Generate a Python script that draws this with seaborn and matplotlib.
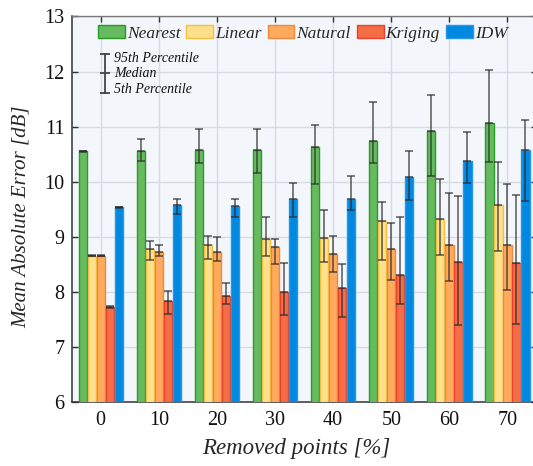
import numpy as np
import pandas as pd
import matplotlib
matplotlib.use("Agg")
import matplotlib.pyplot as plt
from matplotlib.patches import Patch
import seaborn as sns

# ---------------- data ----------------
categories = [0, 10, 20, 30, 40, 50, 60, 70]
methods = ["Nearest", "Linear", "Natural", "Kriging", "IDW"]

nearest_med = [10.55, 10.56, 10.58, 10.58, 10.62, 10.73, 10.92, 11.07]
nearest_p5 = [10.53, 10.38, 10.33, 10.16, 9.96, 10.33, 10.10, 10.35]
nearest_p95 = [10.56, 10.77, 10.95, 10.95, 11.03, 11.45, 11.58, 12.03]

linear_med = [8.65, 8.78, 8.84, 8.95, 8.98, 9.29, 9.32, 9.57]
linear_p5 = [8.64, 8.58, 8.59, 8.64, 8.53, 8.57, 8.67, 8.73]
linear_p95 = [8.66, 8.92, 9.02, 9.36, 9.49, 9.63, 10.05, 10.36]

natural_med = [8.65, 8.72, 8.72, 8.81, 8.69, 8.77, 8.84, 8.84]
natural_p5 = [8.64, 8.65, 8.56, 8.50, 8.36, 8.21, 8.19, 8.03]
natural_p95 = [8.66, 8.85, 9.00, 8.95, 9.02, 9.24, 9.79, 9.96]

kriging_med = [7.72, 7.83, 7.92, 8.00, 8.06, 8.30, 8.53, 8.52]
kriging_p5 = [7.71, 7.59, 7.78, 7.58, 7.53, 7.77, 7.39, 7.42]
kriging_p95 = [7.73, 8.02, 8.16, 8.52, 8.51, 9.36, 9.73, 9.76]

idw_med = [9.53, 9.57, 9.55, 9.68, 9.69, 10.08, 10.38, 10.57]
idw_p5 = [9.52, 9.41, 9.36, 9.36, 9.49, 9.67, 9.97, 9.64]
idw_p95 = [9.54, 9.68, 9.69, 9.98, 10.10, 10.55, 10.90, 11.12]

medians = [nearest_med, linear_med, natural_med, kriging_med, idw_med]
p5s = [nearest_p5, linear_p5, natural_p5, kriging_p5, idw_p5]
p95s = [nearest_p95, linear_p95, natural_p95, kriging_p95, idw_p95]

face_colors = ["#66BB5E", "#FFE08C", "#FFAA5C", "#F46D45", "#0089E0"]
edge_colors = ["#2A9A2A", "#F2C040", "#EE8840", "#E8412F", "#2A95E5"]

rows = []
for m, meds in zip(methods, medians):
    for c, v in zip(categories, meds):
        rows.append({"pct": c, "mae": v, "method": m})
df = pd.DataFrame(rows)

# ---------------- figure ----------------
sns.set_style("ticks")
FONT = "Liberation Serif"
plt.rcParams["font.family"] = "serif"
plt.rcParams["font.serif"] = [FONT, "DejaVu Serif"]

fig = plt.figure(figsize=(5.33, 4.66), dpi=100)
ax = fig.add_axes([0.1345, 0.138, 1.0066 - 0.1345, 0.9646 - 0.138])
ax.set_facecolor("#F3F7FC")

sns.barplot(data=df, x="pct", y="mae", hue="method", order=categories,
            hue_order=methods, palette=face_colors, saturation=1,
            width=0.775, gap=0.08, errorbar=None, legend=False, ax=ax,
            zorder=3)

for cont, ec, meds, lo, hi in zip(ax.containers, edge_colors, medians, p5s, p95s):
    xs = []
    for p in cont.patches:
        p.set_edgecolor(ec)
        p.set_linewidth(1.0)
        xs.append(p.get_x() + p.get_width() / 2)
    xs = np.array(xs)
    meds = np.array(meds); lo = np.array(lo); hi = np.array(hi)
    ax.errorbar(xs, meds, yerr=[meds - lo, hi - meds], fmt="none",
                ecolor="#2b2b2b", elinewidth=1.1, capsize=3.2, capthick=1.1,
                alpha=0.78, zorder=5)
    ax.plot(xs, meds, ls="none", marker="_", ms=6.4, mew=1.1,
            color="#2b2b2b", alpha=0.78, zorder=5)

ax.set_xlim(-0.5, 7.5)
ax.set_ylim(6, 13)
ax.set_yticks(range(6, 14))
ax.set_xticks(range(len(categories)))
ax.set_xticklabels([str(c) for c in categories])

ax.grid(True, color="#D6DBE3", linewidth=1.0, zorder=0)
ax.set_axisbelow(True)

ax.tick_params(axis="both", which="both", direction="in", length=4, width=1,
               top=True, right=True, labelsize=14.5, color="#333333",
               labelcolor="#111111", pad=5)
ax.tick_params(axis="x", pad=7)
for lab in ax.get_xticklabels() + ax.get_yticklabels():
    lab.set_family(FONT)
for side in ["left", "bottom"]:
    ax.spines[side].set_color("#333333")
    ax.spines[side].set_linewidth(1.1)
for side in ["top", "right"]:
    ax.spines[side].set_visible(True)
    ax.spines[side].set_color("#777777")
    ax.spines[side].set_linewidth(1.0)

ax.set_xlabel("Removed points [%]", fontsize=16.5, style="italic", family=FONT)
ax.set_ylabel("Mean Absolute Error [dB]", fontsize=15, style="italic", family=FONT)
ax.xaxis.set_label_coords(0.4837, -0.095)
ax.yaxis.set_label_coords(-0.088, 0.48)

handles = [Patch(facecolor=fc, edgecolor=ec, linewidth=1.0)
           for fc, ec in zip(face_colors, edge_colors)]
leg = ax.legend(handles, methods, loc="center left", bbox_to_anchor=(0.0565, 0.956),
                ncol=5, frameon=False, borderpad=0, borderaxespad=0,
                handlelength=1.55, handleheight=0.75, handletextpad=0.12,
                columnspacing=0.33,
                prop={"size": 12.5, "style": "italic", "family": FONT})

# percentile key
kx = 0.0716
ax.plot([kx, kx], [0.8022, 0.9027], transform=ax.transAxes, color="#444444",
        lw=1.3, clip_on=False, zorder=6)
ax.plot([kx, kx, kx], [0.8022, 0.8525, 0.9027], transform=ax.transAxes,
        ls="none", marker="_", ms=6.5, mew=1.3, color="#444444", zorder=6)
for yy, txt in [(0.8915, "95th Percentile"), (0.8525, "Median"), (0.811, "5th Percentile")]:
    ax.text(0.091, yy, txt, transform=ax.transAxes, fontsize=10, style="italic",
            family=FONT, va="center", ha="left", color="#111111", zorder=6)

fig.savefig("out.png", dpi=100)
